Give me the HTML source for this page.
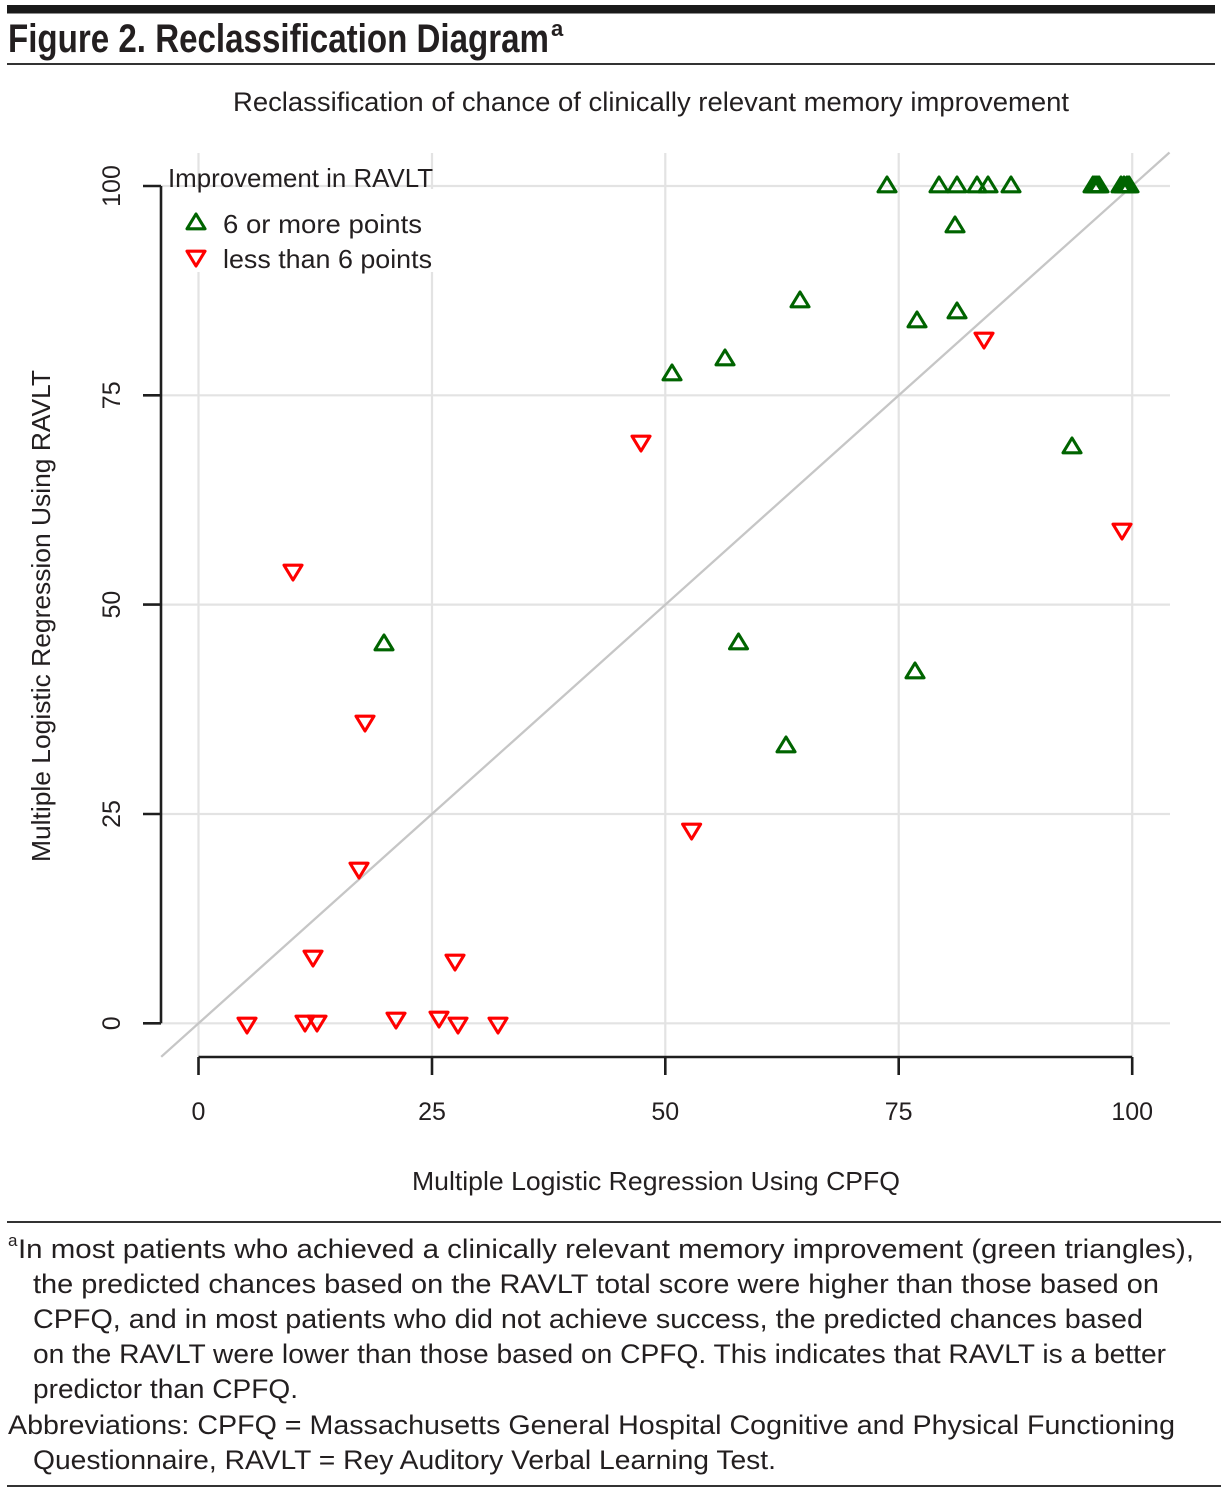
<!DOCTYPE html>
<html>
<head>
<meta charset="utf-8">
<style>
html,body{margin:0;padding:0;background:#fff;}
svg{display:block;}
text{font-family:"Liberation Sans",sans-serif;fill:#231f20;}
</style>
</head>
<body>
<svg width="1228" height="1494" viewBox="0 0 1228 1494" xmlns="http://www.w3.org/2000/svg">
<defs>
<path id="up" d="M0,-8 L9,6.8 L-9,6.8 Z" fill="none" stroke="#006400" stroke-width="3.1" stroke-linejoin="round"/>
<path id="dn" d="M0,8 L9,-6.8 L-9,-6.8 Z" fill="none" stroke="#ff0000" stroke-width="3.1" stroke-linejoin="round"/>
</defs>

<!-- header -->
<rect x="7" y="5" width="1208" height="8.5" fill="#1a1a1a"/>
<text x="8" y="52" font-size="40" font-weight="bold" textLength="541" lengthAdjust="spacingAndGlyphs">Figure 2. Reclassification Diagram</text>
<text x="551" y="36" font-size="22" font-weight="bold">a</text>
<rect x="7" y="63" width="1208" height="2" fill="#333"/>

<!-- subtitle -->
<text x="233" y="111" font-size="26.5" textLength="836" lengthAdjust="spacingAndGlyphs">Reclassification of chance of clinically relevant memory improvement</text>

<!-- grid -->
<g stroke="#e3e3e3" stroke-width="2.2">
<line x1="198.5" y1="153" x2="198.5" y2="1056"/>
<line x1="432" y1="153" x2="432" y2="1056"/>
<line x1="665.3" y1="153" x2="665.3" y2="1056"/>
<line x1="898.7" y1="153" x2="898.7" y2="1056"/>
<line x1="1132.2" y1="153" x2="1132.2" y2="1056"/>
<line x1="161" y1="186" x2="1170" y2="186"/>
<line x1="161" y1="395.3" x2="1170" y2="395.3"/>
<line x1="161" y1="604.6" x2="1170" y2="604.6"/>
<line x1="161" y1="814" x2="1170" y2="814"/>
<line x1="161" y1="1023.3" x2="1170" y2="1023.3"/>
</g>

<!-- diagonal -->
<line x1="161.2" y1="1056.8" x2="1169.5" y2="152.5" stroke="#c6c6c6" stroke-width="2.3"/>

<!-- legend -->
<rect x="163" y="189" width="278" height="83" fill="#fff"/>
<text x="168" y="187" font-size="26" textLength="265" lengthAdjust="spacingAndGlyphs">Improvement in RAVLT</text>
<use href="#up" x="196" y="222"/>
<text x="223" y="233" font-size="26" textLength="199" lengthAdjust="spacingAndGlyphs">6 or more points</text>
<use href="#dn" x="196" y="258"/>
<text x="223" y="268" font-size="26" textLength="209" lengthAdjust="spacingAndGlyphs">less than 6 points</text>

<!-- axes -->
<g stroke="#1e1e1e" stroke-width="2.6" fill="none">
<line x1="161" y1="186" x2="161" y2="1023.3"/>
<line x1="143" y1="186" x2="161" y2="186"/>
<line x1="143" y1="395.3" x2="161" y2="395.3"/>
<line x1="143" y1="604.6" x2="161" y2="604.6"/>
<line x1="143" y1="814" x2="161" y2="814"/>
<line x1="143" y1="1023.3" x2="161" y2="1023.3"/>
<line x1="198.5" y1="1057" x2="1132.2" y2="1057"/>
<line x1="198.5" y1="1057" x2="198.5" y2="1075"/>
<line x1="432" y1="1057" x2="432" y2="1075"/>
<line x1="665.3" y1="1057" x2="665.3" y2="1075"/>
<line x1="898.7" y1="1057" x2="898.7" y2="1075"/>
<line x1="1132.2" y1="1057" x2="1132.2" y2="1075"/>
</g>

<!-- x tick labels -->
<g font-size="25" text-anchor="middle">
<text x="198.5" y="1120">0</text>
<text x="432" y="1120">25</text>
<text x="665.3" y="1120">50</text>
<text x="898.7" y="1120">75</text>
<text x="1132.2" y="1120">100</text>
</g>
<!-- y tick labels -->
<g font-size="25" text-anchor="middle">
<text transform="translate(120,186) rotate(-90)">100</text>
<text transform="translate(120,395.3) rotate(-90)">75</text>
<text transform="translate(120,604.6) rotate(-90)">50</text>
<text transform="translate(120,814) rotate(-90)">25</text>
<text transform="translate(120,1023.3) rotate(-90)">0</text>
</g>

<!-- axis titles -->
<text x="656" y="1190" font-size="26" text-anchor="middle" textLength="488" lengthAdjust="spacingAndGlyphs">Multiple Logistic Regression Using CPFQ</text>
<text transform="translate(50,616) rotate(-90)" font-size="26" text-anchor="middle" textLength="492" lengthAdjust="spacingAndGlyphs">Multiple Logistic Regression Using RAVLT</text>

<!-- green points -->
<use href="#up" x="887" y="185"/>
<use href="#up" x="939" y="185"/>
<use href="#up" x="957" y="185"/>
<use href="#up" x="977" y="185"/>
<use href="#up" x="988" y="185"/>
<use href="#up" x="1011" y="185"/>
<use href="#up" x="1093" y="185"/>
<use href="#up" x="1095" y="185"/>
<use href="#up" x="1097" y="185"/>
<use href="#up" x="1099" y="185"/>
<use href="#up" x="1121" y="185"/>
<use href="#up" x="1124" y="185"/>
<use href="#up" x="1127" y="185"/>
<use href="#up" x="1129" y="185"/>
<use href="#up" x="955" y="225"/>
<use href="#up" x="957" y="311"/>
<use href="#up" x="917" y="320"/>
<use href="#up" x="800" y="300"/>
<use href="#up" x="725" y="358"/>
<use href="#up" x="672" y="373"/>
<use href="#up" x="1072" y="446"/>
<use href="#up" x="384" y="643"/>
<use href="#up" x="738.5" y="642"/>
<use href="#up" x="915" y="671"/>
<use href="#up" x="786" y="745"/>

<!-- red points -->
<use href="#dn" x="984" y="340"/>
<use href="#dn" x="641" y="443"/>
<use href="#dn" x="1122" y="531"/>
<use href="#dn" x="293" y="572"/>
<use href="#dn" x="365" y="723"/>
<use href="#dn" x="691.6" y="831"/>
<use href="#dn" x="359" y="870"/>
<use href="#dn" x="313" y="958"/>
<use href="#dn" x="455" y="962"/>
<use href="#dn" x="247" y="1025"/>
<use href="#dn" x="305" y="1023"/>
<use href="#dn" x="317" y="1023"/>
<use href="#dn" x="396" y="1020"/>
<use href="#dn" x="439" y="1019"/>
<use href="#dn" x="458" y="1025"/>
<use href="#dn" x="498" y="1025"/>

<!-- footnote -->
<rect x="7" y="1221" width="1214" height="2" fill="#333"/>
<text x="8" y="1246" font-size="17">a</text>
<g font-size="26.5">
<text x="18" y="1258" textLength="1176" lengthAdjust="spacingAndGlyphs">In most patients who achieved a clinically relevant memory improvement (green triangles),</text>
<text x="33" y="1293" textLength="1126" lengthAdjust="spacingAndGlyphs">the predicted chances based on the RAVLT total score were higher than those based on</text>
<text x="33" y="1328" textLength="1110" lengthAdjust="spacingAndGlyphs">CPFQ, and in most patients who did not achieve success, the predicted chances based</text>
<text x="33" y="1363" textLength="1133" lengthAdjust="spacingAndGlyphs">on the RAVLT were lower than those based on CPFQ. This indicates that RAVLT is a better</text>
<text x="33" y="1398" textLength="265" lengthAdjust="spacingAndGlyphs">predictor than CPFQ.</text>
<text x="8" y="1434" textLength="1167" lengthAdjust="spacingAndGlyphs">Abbreviations: CPFQ = Massachusetts General Hospital Cognitive and Physical Functioning</text>
<text x="33" y="1469" textLength="743" lengthAdjust="spacingAndGlyphs">Questionnaire, RAVLT = Rey Auditory Verbal Learning Test.</text>
</g>
<rect x="7" y="1485" width="1214" height="2" fill="#333"/>
</svg>
</body>
</html>
